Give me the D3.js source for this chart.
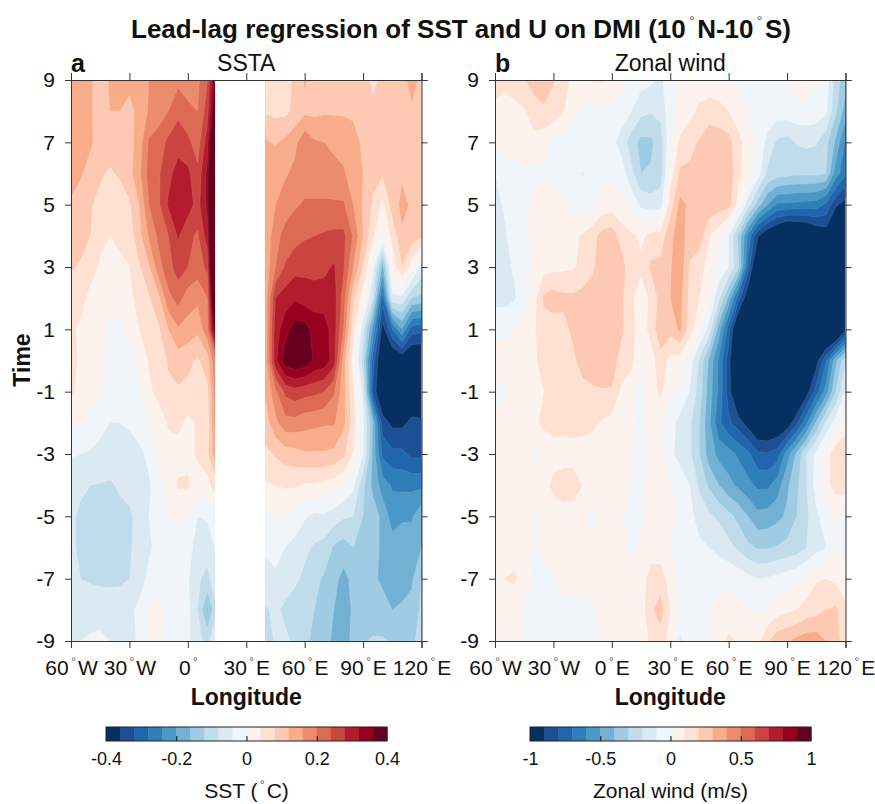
<!DOCTYPE html>
<html>
<head>
<meta charset="utf-8">
<script src="https://cdn.jsdelivr.net/npm/d3@7"></script>
<style>
  body { margin: 0; background: #fff; }
  text { font-family: "Liberation Sans", Arial, sans-serif; fill: #111; }
</style>
</head>
<body>
<div id="chart"></div>
<script>
var n = null; // land points, no SST there

var lons = d3.range(-60, 121, 5);
var times = [9, 8, 7, 6, 5, 4, 3, 2, 1, 0, -1, -2, -3, -4, -5, -6, -7, -8, -9];
var timeTicks = [-9, -7, -5, -3, -1, 1, 3, 5, 7, 9];
var lonTicks = [-60, -30, 0, 30, 60, 90, 120];
var lonLabelsA = ["60|W", "30|W", "0|", "30|E", "60|E", "90|E", "120|E"];
var lonLabelsB = ["60|W", "30|W", "0|E", "30|E", "60|E", "90|E", "120|E"];
var landLons = [14, 39.6];

// blue to red, one colour per contour band
var colors = ["#053061", "#1c4f94", "#2166ac", "#2e7fb9", "#4a98c6", "#72b1d4", "#9fcce2", "#c0dcea", "#dbe9f2", "#eff5f9",
              "#fdf3ee", "#fee1d3", "#fdc9b2", "#f8ac8a", "#ec8c6d", "#dd6a53", "#cb4540", "#b31c2c", "#98001f", "#67001f"];

var sstTicks = [-0.4, -0.2, 0, 0.2, 0.4];
var windTicks = [-1, -0.5, 0, 0.5, 1];

// rows go from time 9 down to -9, columns follow lons
var sstRows = [
  [.14,.125,.125,.10,.125,.125,.13,.14,.16,.18,.19,.19,.18,.19,.24,.40,n,n,n,n,.075,.065,.07,.085,.125,.105,.105,.105,.105,.105,.10,.07,.09,.10,.105,.135,.11],
  [.14,.13,.125,.10,.12,.12,.11,.13,.165,.18,.20,.23,.21,.20,.26,.46,n,n,n,n,.075,.07,.07,.09,.11,.11,.115,.115,.115,.115,.105,.09,.09,.095,.10,.115,.11],
  [.14,.135,.125,.105,.10,.10,.105,.14,.205,.22,.25,.265,.25,.22,.30,.55,n,n,n,n,.125,.115,.13,.15,.19,.165,.16,.15,.145,.13,.115,.105,.105,.105,.105,.105,.10],
  [.135,.125,.105,.085,.075,.085,.105,.15,.215,.235,.27,.295,.29,.25,.33,.65,n,n,n,n,.13,.155,.155,.17,.18,.18,.18,.175,.165,.14,.12,.09,.085,.10,.115,.105,.10],
  [.115,.10,.083,.07,.065,.06,.075,.12,.20,.235,.285,.31,.30,.265,.33,.70,n,n,n,n,.125,.16,.18,.195,.205,.205,.205,.205,.205,.16,.115,.075,.03,.10,.13,.115,.105],
  [.10,.095,.08,.05,.04,.05,.06,.105,.165,.21,.24,.285,.25,.235,.30,.70,n,n,n,n,.13,.185,.215,.225,.235,.24,.245,.25,.25,.195,.12,.05,.0,.05,.115,.10,.085],
  [.085,.075,.055,.035,.025,.03,.04,.075,.115,.185,.225,.26,.24,.22,.25,.70,n,n,n,n,.135,.20,.245,.265,.27,.265,.27,.285,.245,.16,.08,-.02,-.17,.02,.08,.02,-.05],
  [.06,.05,.03,.02,.02,.015,.03,.055,.075,.11,.19,.215,.18,.17,.20,.60,n,n,n,n,.14,.28,.30,.315,.30,.30,.30,.30,.22,.09,.02,-.08,-.30,-.05,-.05,-.12,-.13],
  [.045,.035,.02,.01,-.01,-.01,.01,.04,.055,.075,.12,.155,.145,.13,.19,.45,n,n,n,n,.135,.30,.345,.38,.38,.345,.34,.30,.20,.05,-.06,-.21,-.38,-.28,-.20,-.30,-.31],
  [.05,.035,.015,.005,-.01,-.015,-.01,.005,.045,.055,.085,.10,.09,.075,.10,.22,n,n,n,n,.14,.31,.385,.40,.39,.355,.345,.30,.14,.02,-.10,-.30,-.42,-.42,-.40,-.42,-.42],
  [.045,.03,.015,.005,-.015,-.02,-.015,.0,.03,.055,.07,.075,.07,.06,.07,.20,n,n,n,n,.125,.19,.25,.265,.255,.25,.24,.205,.135,.045,-.05,-.33,-.42,-.42,-.42,-.40,-.42],
  [.01,.005,-.01,-.03,-.04,-.04,-.035,-.02,.0,.015,.045,.05,.03,.045,.05,.20,n,n,n,n,.105,.15,.185,.185,.175,.17,.165,.165,.13,.06,-.03,-.16,-.34,-.37,-.37,-.35,-.35],
  [-.035,-.04,-.045,-.05,-.055,-.06,-.055,-.05,-.03,.005,.025,.025,.03,.045,.07,.16,n,n,n,n,.07,.085,.10,.105,.115,.115,.115,.11,.09,.035,-.035,-.17,-.29,-.31,-.31,-.33,-.33],
  [-.06,-.075,-.08,-.082,-.085,-.075,-.07,-.06,-.045,-.015,.025,.045,.045,.025,.025,.075,n,n,n,n,.035,.04,.045,.045,.035,.035,.03,.02,.0,-.03,-.11,-.17,-.22,-.245,-.25,-.25,-.25],
  [-.075,-.085,-.09,-.09,-.09,-.09,-.085,-.07,-.04,-.02,.0,.01,.0,-.04,-.035,-.01,n,n,n,n,-.01,.005,.0,-.01,-.035,-.05,-.045,-.06,-.075,-.08,-.12,-.14,-.17,-.22,-.205,-.205,-.17],
  [-.075,-.085,-.095,-.09,-.09,-.09,-.085,-.065,-.045,-.03,-.03,-.025,-.03,-.05,-.065,-.03,n,n,n,n,-.035,-.03,-.04,-.055,-.07,-.085,-.095,-.125,-.14,-.12,-.13,-.15,-.165,-.18,-.18,-.18,-.16],
  [-.05,-.08,-.085,-.09,-.09,-.09,-.08,-.06,-.03,-.02,-.03,-.04,-.035,-.075,-.09,-.05,n,n,n,n,-.05,-.045,-.055,-.07,-.09,-.11,-.125,-.15,-.17,-.15,-.15,-.155,-.165,-.165,-.175,-.165,-.12],
  [-.05,-.055,-.055,-.05,-.055,-.05,-.05,-.03,.01,.01,-.02,-.025,-.03,-.08,-.165,-.08,n,n,n,n,-.085,-.07,-.09,-.105,-.11,-.12,-.14,-.16,-.175,-.155,-.145,-.145,-.15,-.16,-.155,-.15,-.11],
  [-.045,-.04,-.035,-.035,-.04,-.05,-.05,-.035,.01,.01,-.01,-.02,-.03,-.07,-.09,-.05,n,n,n,n,-.10,-.075,-.07,-.09,-.115,-.125,-.15,-.165,-.175,-.15,-.125,-.115,-.115,-.125,-.135,-.13,-.10]
];

var windRows = [
  [.13,.12,.15,.19,.25,.27,.21,.15,.07,.08,.11,.11,.09,.03,-.03,-.06,-.08,-.12,-.02,.02,.05,.05,.05,.04,.01,-.02,-.03,-.03,-.03,-.02,.0,.05,.06,.01,-.03,-.25,-.36],
  [.08,.07,.07,.09,.15,.18,.16,.11,.03,-.03,-.02,-.02,-.02,-.05,-.10,-.17,-.19,-.17,-.03,.03,.07,.12,.14,.13,.10,.05,.0,-.02,-.04,-.05,-.04,-.03,-.03,-.04,-.08,-.28,-.45],
  [.02,.05,.06,.07,.07,.04,-.02,-.03,-.03,-.03,-.04,-.05,-.07,-.14,-.25,-.33,-.32,-.25,-.02,.12,.17,.21,.28,.26,.24,.13,.05,-.03,-.13,-.22,-.24,-.19,-.18,-.19,-.27,-.42,-.62],
  [-.10,-.06,-.04,-.02,-.02,-.02,-.03,-.04,-.07,-.105,-.05,-.03,-.02,-.05,-.17,-.30,-.29,-.25,.05,.22,.22,.26,.28,.28,.27,.13,.04,-.05,-.22,-.25,-.27,-.28,-.28,-.28,-.30,-.55,-.68],
  [-.12,-.09,-.03,-.02,.03,.05,.05,.02,-.03,-.06,-.03,.03,.05,.02,-.03,-.12,-.15,-.14,.15,.33,.28,.29,.27,.26,.24,.06,-.15,-.35,-.50,-.62,-.62,-.63,-.64,-.65,-.72,-.88,-.95],
  [-.11,-.11,-.06,-.02,.03,.05,.06,.07,.08,.11,.16,.24,.26,.15,.12,.08,.13,.14,.27,.36,.24,.25,.11,.02,-.10,-.32,-.62,-.89,-1.0,-1.07,-1.15,-1.13,-1.1,-1.02,-.97,-1.1,-1.2],
  [-.12,-.12,-.09,-.04,.03,.06,.07,.08,.09,.12,.18,.27,.28,.25,.13,.12,.22,.23,.29,.37,.19,.14,.06,-.03,-.10,-.28,-.75,-1.1,-1.2,-1.2,-1.2,-1.2,-1.2,-1.2,-1.2,-1.2,-1.2],
  [-.12,-.13,-.11,-.05,.06,.22,.25,.225,.22,.24,.26,.29,.29,.22,.12,.05,.12,.24,.30,.34,.17,.10,.02,-.18,-.42,-.75,-1.0,-1.2,-1.2,-1.2,-1.2,-1.2,-1.2,-1.2,-1.2,-1.2,-1.2],
  [-.05,-.03,.02,.06,.09,.15,.15,.17,.22,.27,.28,.28,.28,.22,.13,.05,.13,.28,.24,.32,.15,.02,-.14,-.45,-.75,-1.1,-1.2,-1.2,-1.2,-1.2,-1.2,-1.2,-1.2,-1.2,-1.2,-1.2,-.92],
  [.11,.06,.05,.06,.08,.14,.15,.16,.18,.24,.27,.28,.26,.16,.13,.02,.06,.16,.07,.05,-.05,-.22,-.42,-.62,-.85,-1.2,-1.2,-1.2,-1.2,-1.2,-1.2,-1.2,-1.2,-.95,-.72,-.42,-.22],
  [-.03,-.02,.04,.06,.07,.10,.15,.16,.17,.17,.18,.19,.19,.08,.04,-.04,.05,.12,.03,-.03,-.10,-.25,-.45,-.62,-.85,-1.1,-1.1,-1.1,-1.1,-1.1,-1.1,-1.1,-.95,-.75,-.55,-.30,-.08],
  [.03,.09,.05,.05,.08,.12,.14,.14,.14,.13,.12,.09,.07,.03,.01,-.03,.03,.02,-.06,-.13,-.18,-.30,-.48,-.68,-.78,-.85,-.95,-1.05,-1.05,-1.03,-.98,-.82,-.62,-.38,-.18,-.05,.05],
  [.05,.05,.05,.04,-.02,.03,.05,.05,.06,.06,.06,.05,.04,.02,.0,-.04,.03,.02,-.08,-.13,-.18,-.30,-.45,-.53,-.56,-.62,-.68,-.78,-.79,-.75,-.55,-.38,-.20,-.07,.05,.16,.18],
  [.05,.06,.06,.06,.05,.05,.13,.16,.15,.10,.05,.05,.05,.03,.0,-.03,.03,.03,.01,-.04,-.10,-.22,-.32,-.40,-.47,-.52,-.57,-.62,-.62,-.55,-.42,-.32,-.20,-.05,.07,.14,.16],
  [.05,.05,.05,.05,-.01,.03,.05,.05,.05,.03,-.03,.04,.03,.01,-.03,-.02,.02,.03,.01,-.02,-.07,-.14,-.18,-.22,-.27,-.33,-.40,-.47,-.46,-.43,-.38,-.30,-.22,-.12,-.05,.01,-.05],
  [.05,.05,.05,.05,-.01,.02,.05,.05,.05,.04,.04,.04,.03,.02,-.02,.02,.06,.04,.0,-.03,-.05,-.08,-.10,-.13,-.17,-.22,-.28,-.31,-.31,-.29,-.27,-.25,-.20,-.14,-.10,.0,-.03],
  [.05,.10,.12,.04,-.02,-.03,-.01,.03,.05,.05,.05,.05,.05,.05,.07,.05,.14,.15,.06,-.02,-.03,-.03,-.03,-.02,-.02,-.04,-.07,-.10,-.09,-.07,-.05,-.02,.03,.09,.10,.08,.05],
  [.04,.10,.03,-.01,-.03,-.03,-.03,-.02,-.03,-.03,-.02,.03,.04,.04,.04,.05,.18,.25,.10,-.01,-.03,-.02,-.01,.02,.04,.03,.0,-.01,.01,.05,.08,.10,.14,.16,.20,.22,.12],
  [.04,.05,.04,-.02,-.03,-.03,-.03,-.03,-.03,-.03,-.02,.01,.03,.02,-.01,.04,.12,.15,.06,-.12,-.04,-.02,.0,.05,.12,.09,.02,.07,.19,.27,.29,.33,.36,.36,.30,.25,.14]
];

var width = 875, height = 804;
var panelTop = 80, panelBottom = 641, panelWidth = 350.5;

var svg = d3.select("#chart").append("svg")
    .attr("width", width)
    .attr("height", height);

// text with a small raised degree sign where the label has a "|"
function degreeText(sel, label, size) {
    var parts = label.split("|");
    sel.text(parts[0]);
    for (var i = 1; i < parts.length; i++) {
        sel.append("tspan").attr("dy", -size * 0.46).attr("dx", size * 0.12)
            .style("font-size", (size * 0.55) + "px").style("font-weight", "normal").style("fill", "#555").text("°");
        sel.append("tspan").attr("dy", size * 0.46).attr("dx", size * 0.1).text(parts[i] || " ");
    }
}

function drawPanel(opt) {
    var x = d3.scaleLinear().domain([-60, 120]).range([opt.left, opt.left + panelWidth]);
    var y = d3.scaleLinear().domain([-9, 9]).range([panelBottom, panelTop]);
    var step = opt.maxValue / 10;
    var thresholds = d3.range(1, 20).map(function(i) { return -opt.maxValue + i * step; });

    // land cells take the last sea value on their row, the mask hides them
    var grid = [];
    opt.rows.forEach(function(row) {
        var last = row[0];
        row.forEach(function(v) {
            if (v !== null) last = v;
            grid.push(last);
        });
    });

    var contours = d3.contours()
        .size([lons.length, times.length])
        .thresholds(thresholds)(grid);

    // contour coordinates are cell based, value i sits at i + 0.5
    var path = d3.geoPath(d3.geoTransform({
        point: function(gx, gy) {
            this.stream.point(x(lons[0] + (gx - 0.5) * 5), y(times[0] - (gy - 0.5)));
        }
    }));

    svg.append("clipPath").attr("id", opt.id + "-clip").append("rect")
        .attr("x", x(-60)).attr("y", y(9))
        .attr("width", x(120) - x(-60)).attr("height", y(-9) - y(9));

    var g = svg.append("g").attr("clip-path", "url(#" + opt.id + "-clip)");

    g.append("rect")
        .attr("x", x(-60)).attr("y", y(9))
        .attr("width", x(120) - x(-60)).attr("height", y(-9) - y(9))
        .style("fill", colors[0]);

    g.selectAll("path")
        .data(contours)
        .enter().append("path")
        .attr("d", path)
        .style("fill", function(d, i) { return colors[i + 1]; })
        .style("stroke", "#fff")
        .style("stroke-opacity", 0.18)
        .style("stroke-width", 0.5);

    if (opt.land) {
        g.append("rect")
            .attr("x", x(opt.land[0])).attr("y", y(9))
            .attr("width", x(opt.land[1]) - x(opt.land[0])).attr("height", y(-9) - y(9))
            .style("fill", "#fff");
    }

    // axes, ticks point outward on all four sides
    var bottom = svg.append("g")
        .attr("transform", "translate(0," + y(-9) + ")")
        .call(d3.axisBottom(x).tickValues(lonTicks).tickSize(7).tickPadding(6)
            .tickFormat(function() { return ""; }));
    bottom.selectAll(".tick text").each(function(d, i) {
        d3.select(this).style("font-size", "21px").attr("dy", "1em")
            .call(degreeText, opt.lonLabels[i], 21);
    });
    svg.append("g")
        .attr("transform", "translate(0," + y(9) + ")")
        .call(d3.axisTop(x).tickValues(lonTicks).tickSize(7).tickFormat(""));
    svg.append("g")
        .attr("transform", "translate(" + x(-60) + ",0)")
        .call(d3.axisLeft(y).tickValues(timeTicks).tickSize(6).tickPadding(10)
            .tickFormat(function(d) { return String(d); }))
        .selectAll("text").style("font-size", "21px");
    svg.append("g")
        .attr("transform", "translate(" + x(120) + ",0)")
        .call(d3.axisRight(y).tickValues(timeTicks).tickSize(6).tickFormat(""));

    svg.selectAll(".domain, .tick line").style("stroke", "#333");

    svg.append("text").attr("x", x(-60)).attr("y", 72)
        .style("font-size", "25px").style("font-weight", "bold").text(opt.letter);
    svg.append("text").attr("x", x(30)).attr("y", 71).attr("text-anchor", "middle")
        .style("font-size", "23px").text(opt.title);
    svg.append("text").attr("x", x(30)).attr("y", 705).attr("text-anchor", "middle")
        .style("font-size", "23px").style("font-weight", "bold").text("Longitude");
}

function drawColorbar(opt) {
    var c = d3.scaleLinear().domain([-opt.maxValue, opt.maxValue]).range([opt.left, opt.left + 281]);
    var step = opt.maxValue / 10;
    var barTop = 727, barHeight = 14;

    svg.append("g").selectAll("rect")
        .data(colors)
        .enter().append("rect")
        .attr("x", function(d, i) { return c(-opt.maxValue + i * step); })
        .attr("y", barTop)
        .attr("width", c(step) - c(0) + 0.5)
        .attr("height", barHeight)
        .style("fill", function(d) { return d; });

    var axis = svg.append("g")
        .attr("transform", "translate(0," + (barTop + barHeight) + ")")
        .call(d3.axisBottom(c).tickValues(opt.ticks).tickSize(-5).tickPadding(11)
            .tickFormat(function(d) { return String(d); }));
    axis.select(".domain").remove();
    axis.selectAll("text").style("font-size", "18px");
    axis.selectAll(".tick line").style("stroke", "#111")
        .style("opacity", function(d) { return Math.abs(d) === opt.maxValue ? 0 : 1; });

    svg.append("rect")
        .attr("x", c.range()[0]).attr("y", barTop)
        .attr("width", 281).attr("height", barHeight)
        .style("fill", "none").style("stroke", "#222");

    svg.append("text")
        .attr("x", opt.left + 140.5).attr("y", 798)
        .attr("text-anchor", "middle")
        .style("font-size", "21px")
        .call(degreeText, opt.label, 21);
}

// Title of graph
svg.append("text")
    .attr("x", 461).attr("y", 38)
    .attr("text-anchor", "middle")
    .style("font-size", "26px").style("font-weight", "bold")
    .call(degreeText, "Lead-lag regression of SST and U on DMI (10|N-10|S)", 26);

drawPanel({id: "a", left: 71, rows: sstRows, maxValue: 0.4, land: landLons,
    lonLabels: lonLabelsA, letter: "a", title: "SSTA"});
drawPanel({id: "b", left: 495, rows: windRows, maxValue: 1, land: null,
    lonLabels: lonLabelsB, letter: "b", title: "Zonal wind"});

// Y-axis label
svg.append("text")
    .attr("transform", "translate(30,360) rotate(-90)")
    .attr("text-anchor", "middle")
    .style("font-size", "23px").style("font-weight", "bold")
    .text("Time");

drawColorbar({left: 106, maxValue: 0.4, ticks: sstTicks, label: "SST (|C)"});
drawColorbar({left: 530, maxValue: 1, ticks: windTicks, label: "Zonal wind (m/s)"});
</script>
</body>
</html>
